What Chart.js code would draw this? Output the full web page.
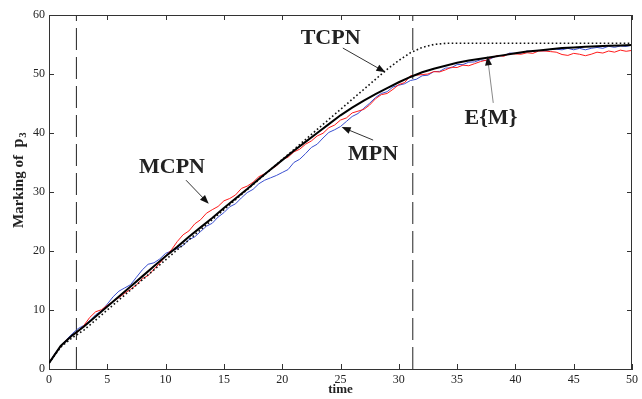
<!DOCTYPE html>
<html>
<head>
<meta charset="utf-8">
<script src="https://cdn.jsdelivr.net/npm/chart.js@4"></script>
<style>
  html, body { margin: 0; padding: 0; background: #fff; }
  canvas { display: block; }
</style>
</head>
<body>
<canvas id="c" width="642" height="399"></canvas>
<script>
// time grids
const tCoarse = Array.from({ length: 51 }, (_, i) => i);
const tFine = Array.from({ length: 101 }, (_, i) => i / 2);

// E{M} (mean marking), read at integer times
const meanM = [1.0, 3.9, 5.7, 7.2, 8.9, 10.6, 12.3, 14.0, 15.7, 17.4,
  19.1, 20.7, 22.4, 24.0, 25.6, 27.3, 28.9, 30.5, 32.2, 33.8,
  35.4, 37.0, 38.5, 40.0, 41.5, 43.0, 44.3, 45.5, 46.6, 47.6,
  48.6, 49.5, 50.3, 50.9, 51.4, 51.9, 52.3, 52.6, 52.9, 53.2,
  53.5, 53.8, 54.0, 54.2, 54.4, 54.5, 54.6, 54.7, 54.8, 54.85, 54.9];

// TCPN (dotted)
const tcpn = [1.0, 3.7, 5.3, 6.6, 8.3, 10.0, 11.7, 13.4, 15.1, 16.8,
  18.5, 20.2, 21.9, 23.6, 25.3, 27.0, 28.7, 30.4, 32.1, 33.8,
  35.5, 37.2, 38.9, 40.6, 42.3, 44.0, 45.7, 47.4, 49.1, 50.8,
  52.3, 53.6, 54.5, 55.0, 55.2, 55.2, 55.2, 55.2, 55.2, 55.2,
  55.2, 55.2, 55.2, 55.2, 55.2, 55.2, 55.2, 55.2, 55.2, 55.2, 55.2];

// MCPN (red), every 0.5 time units
const mcpn = [1.0, 2.5, 3.8, 4.9, 5.7, 6.35, 7.4, 8.75, 9.7, 10.05,
  10.8, 11.45, 12.1, 12.85, 13.5, 14.25, 15.3, 15.85, 16.9, 17.95,
  19.1, 20.2, 21.6, 22.75, 23.4, 24.6, 25.3, 26.4, 27.0, 27.55,
  28.5, 28.9, 29.5, 30.6, 31.0, 31.65, 32.6, 33.1, 33.8, 34.4,
  35.5, 35.9, 36.8, 37.25, 38.1, 38.65, 39.5, 39.95, 40.9, 41.35,
  42.2, 42.55, 43.4, 43.7, 44.0, 44.75, 45.8, 46.5, 46.7, 47.4,
  48.2, 48.55, 49.7, 49.8, 49.9, 50.0, 50.4, 50.35, 50.7, 51.15,
  51.1, 51.5, 51.4, 51.75, 52.1, 52.35, 52.8, 53.15, 53.0, 53.45,
  53.4, 53.35, 53.6, 53.5, 53.9, 53.9, 53.8, 53.7, 53.3, 53.15,
  53.5, 53.35, 53.1, 53.35, 53.7, 53.55, 53.9, 53.7, 54.05, 53.85, 54.0];

// MPN (blue), every 0.5 time units
const mpn = [1.0, 2.6, 3.9, 5.0, 6.0, 6.85, 7.4, 8.15, 9.2, 9.85,
  11.0, 12.25, 13.2, 13.75, 14.3, 15.55, 16.8, 17.75, 18.0, 18.65,
  19.6, 20.0, 20.4, 20.95, 21.9, 22.4, 23.3, 24.2, 24.7, 25.75,
  26.5, 27.5, 28.0, 29.0, 29.9, 30.45, 31.4, 32.0, 32.4, 32.8,
  33.3, 33.8, 35.0, 35.55, 36.5, 37.55, 38.1, 39.15, 40.1, 40.55,
  41.1, 41.95, 42.8, 43.3, 44.2, 45.05, 46.0, 46.7, 47.0, 47.8,
  48.1, 48.35, 48.9, 49.1, 49.7, 49.8, 50.4, 50.45, 51.0, 51.05,
  51.6, 51.6, 52.0, 52.05, 52.4, 52.25, 52.7, 53.15, 53.1, 53.55,
  53.5, 53.55, 53.9, 53.8, 54.0, 53.9, 54.2, 54.2, 54.1, 54.35,
  54.1, 54.35, 54.1, 54.35, 54.5, 54.35, 54.7, 54.52, 54.75, 54.67, 54.9];

// vertical dashed markers
const markerTimes = [2.35, 31.2];

const xTicks = [0, 5, 10, 15, 20, 25, 30, 35, 40, 45, 50];
const yTicks = [0, 10, 20, 30, 40, 50, 60];

// labels: text centre and arrow (from -> to), in data units
const notes = [
  { text: 'TCPN', at: [24.15, 56.1], from: [25.2, 54.4], to: [28.85, 50.3], shaft: '#333' },
  { text: 'MCPN', at: [10.55, 34.1], from: [11.75, 32.0], to: [13.7, 28.0], shaft: '#333' },
  { text: 'MPN', at: [27.8, 36.4], from: [27.8, 38.8], to: [25.1, 41.0], shaft: '#333' },
  { text: 'E{M}', at: [37.9, 42.5], from: [38.1, 45.1], to: [37.6, 53.0], shaft: '#888' },
];

const pts = (xs, ys) => ys.map((y, i) => ({ x: xs[i], y }));
const SERIF = '"Liberation Serif", "DejaVu Serif", serif';

const frame = {
  id: 'frame',
  afterDraw(chart) {
    const { ctx, chartArea: a, scales: { x, y } } = chart;
    ctx.save();
    ctx.strokeStyle = '#333';
    ctx.lineWidth = 1;
    ctx.beginPath();
    ctx.moveTo(a.left, a.top + 0.5); ctx.lineTo(a.right, a.top + 0.5);
    ctx.moveTo(a.right - 0.5, a.top); ctx.lineTo(a.right - 0.5, a.bottom);
    xTicks.forEach(v => {
      const px = Math.round(x.getPixelForValue(v)) + 0.5;
      ctx.moveTo(px, a.bottom); ctx.lineTo(px, a.bottom - 5);
      ctx.moveTo(px, a.top); ctx.lineTo(px, a.top + 5);
    });
    yTicks.forEach(v => {
      const py = Math.round(y.getPixelForValue(v)) + 0.5;
      ctx.moveTo(a.left, py); ctx.lineTo(a.left + 5, py);
      ctx.moveTo(a.right, py); ctx.lineTo(a.right - 5, py);
    });
    ctx.stroke();

    // annotations
    notes.forEach(n => {
      const fx = x.getPixelForValue(n.from[0]), fy = y.getPixelForValue(n.from[1]);
      const tx = x.getPixelForValue(n.to[0]), ty = y.getPixelForValue(n.to[1]);
      const ang = Math.atan2(ty - fy, tx - fx);
      ctx.strokeStyle = n.shaft;
      ctx.beginPath();
      ctx.moveTo(fx, fy);
      ctx.lineTo(tx - 7 * Math.cos(ang), ty - 7 * Math.sin(ang));
      ctx.stroke();
      ctx.fillStyle = '#111';
      ctx.beginPath();
      ctx.moveTo(tx, ty);
      ctx.lineTo(tx - 9 * Math.cos(ang) + 3.5 * Math.sin(ang), ty - 9 * Math.sin(ang) - 3.5 * Math.cos(ang));
      ctx.lineTo(tx - 9 * Math.cos(ang) - 3.5 * Math.sin(ang), ty - 9 * Math.sin(ang) + 3.5 * Math.cos(ang));
      ctx.closePath();
      ctx.fill();
      ctx.fillStyle = '#222';
      ctx.font = 'bold 22px ' + SERIF;
      ctx.textAlign = 'center';
      ctx.textBaseline = 'middle';
      ctx.fillText(n.text, x.getPixelForValue(n.at[0]), y.getPixelForValue(n.at[1]));
    });

    // y axis title with subscript
    ctx.translate(19, 228);
    ctx.rotate(-Math.PI / 2);
    ctx.fillStyle = '#222';
    ctx.textAlign = 'left';
    ctx.textBaseline = 'middle';
    ctx.font = 'bold 15px ' + SERIF;
    const lead = 'Marking of  ';
    ctx.fillText(lead, 0, 0);
    const w1 = ctx.measureText(lead).width;
    ctx.font = 'bold 16px ' + SERIF;
    ctx.fillText('p', w1, 0);
    const w2 = ctx.measureText('p').width;
    ctx.font = 'bold 11px ' + SERIF;
    ctx.fillText('3', w1 + w2 + 1, 4);
    ctx.restore();
  }
};

new Chart(document.getElementById('c'), {
  type: 'line',
  data: {
    datasets: [
      { label: 'E{M}', data: pts(tCoarse, meanM), borderColor: '#000', borderWidth: 2 },
      { label: 'TCPN', data: pts(tCoarse, tcpn), borderColor: '#111', borderWidth: 1.6, borderDash: [1.6, 2.4] },
      { label: 'MCPN', data: pts(tFine, mcpn), borderColor: '#ff1a1a', borderWidth: 1 },
      { label: 'MPN', data: pts(tFine, mpn), borderColor: '#3a4fd0', borderWidth: 1 },
      ...markerTimes.map(t => ({
        label: 'marker', data: [{ x: t, y: 0 }, { x: t, y: 60 }],
        borderColor: '#222', borderWidth: 1, borderDash: [22, 7]
      }))
    ]
  },
  options: {
    responsive: false,
    animation: false,
    events: [],
    layout: { padding: { left: 5, right: 5, top: 15, bottom: 0 } },
    elements: { point: { radius: 0 }, line: { tension: 0 } },
    plugins: { legend: { display: false }, tooltip: { enabled: false } },
    scales: {
      x: {
        type: 'linear', min: 0, max: 50,
        afterFit: s => { s.height = 30; },
        afterBuildTicks: s => { s.ticks = xTicks.map(v => ({ value: v })); },
        grid: { display: false, drawTicks: false },
        border: { display: true, color: '#333', width: 1 },
        ticks: { padding: 4, color: '#222', maxRotation: 0, font: { family: SERIF, size: 12 } },
        title: { display: true, text: 'time', color: '#222', padding: { top: 0, bottom: 2 }, font: { family: SERIF, size: 13, weight: 'bold' } }
      },
      y: {
        type: 'linear', min: 0, max: 60,
        afterFit: s => { s.width = 44; },
        afterBuildTicks: s => { s.ticks = yTicks.map(v => ({ value: v })); },
        grid: { display: false, drawTicks: false },
        border: { display: true, color: '#333', width: 1 },
        ticks: { padding: 4, color: '#222', font: { family: SERIF, size: 12 } }
      }
    }
  },
  plugins: [frame]
});
</script>
</body>
</html>
